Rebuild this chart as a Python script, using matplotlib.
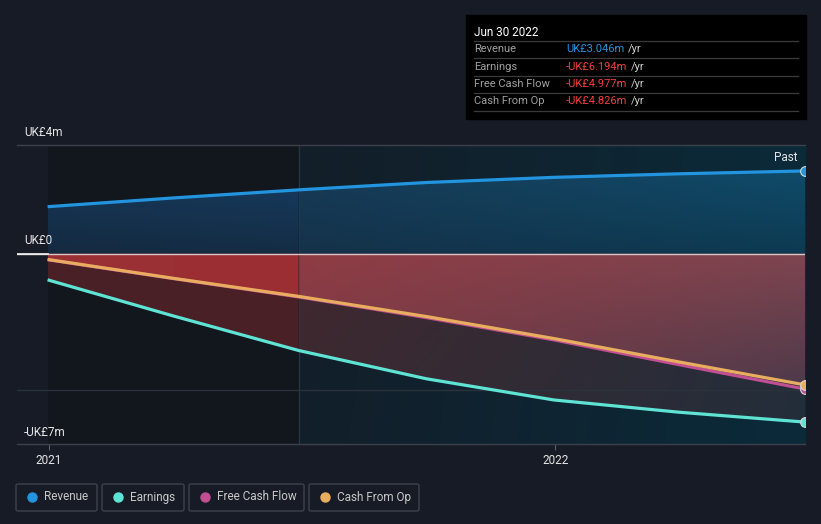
import numpy as np
import pandas as pd
import matplotlib
matplotlib.use('Agg')
import matplotlib.pyplot as plt
import matplotlib.dates as mdates
from matplotlib.patches import PathPatch, Rectangle, FancyBboxPatch
from matplotlib.lines import Line2D
from matplotlib.colors import to_rgba

plt.rcParams['font.family'] = ['Roboto', 'DejaVu Sans']

#-------------
# Data (UK£ m)
#-------------
dates = ['2020-12-31', '2021-03-31', '2021-06-30', '2021-09-30',
         '2021-12-31', '2022-03-31', '2022-06-30']
revenue = [1.73, 2.05, 2.35, 2.62, 2.81, 2.94, 3.046]
earnings = [-0.96, -2.28, -3.56, -4.60, -5.38, -5.83, -6.194]
free_cash_flow = [-0.22, -0.91, -1.59, -2.35, -3.17, -4.08, -4.977]
cash_from_op = [-0.21, -0.90, -1.57, -2.31, -3.12, -3.98, -4.826]

series_names = ['Revenue', 'Earnings', 'Free Cash Flow', 'Cash From Op']
series_colors = ['#2394df', '#5fe3d4', '#c04f93', '#e9ad5f']

tooltip_title = 'Jun 30 2022'
tooltip_values = ['UK£3.046m', '-UK£6.194m', '-UK£4.977m', '-UK£4.826m']

y_labels = ['UK£4m', 'UK£0', '-UK£7m']
x_ticks = ['2021-01-01', '2022-01-01']
x_ticklabels = ['2021', '2022']
split_date = '2021-06-30'

#------------------------------------------------------------------------------

W, H = 821, 524
bg = '#161b25'

def fx(px):
    return px / W

def fy(py):
    return 1 - py / H

x = mdates.date2num(pd.to_datetime(dates))
rev = np.array(revenue)
ear = np.array(earnings)
fcf = np.array(free_cash_flow)
cfo = np.array(cash_from_op)
xs = mdates.date2num(pd.Timestamp(split_date))
x2021 = mdates.date2num(pd.Timestamp('2021-01-01'))
xmin = x2021 - 32 / 507 * 365
xmax = x[-1]

fig = plt.figure(figsize=(W / 100, H / 100), dpi=100, facecolor=bg)
ax = fig.add_axes([fx(17), fy(444), (805 - 17) / W, (444 - 145) / H])
ax.set_facecolor(bg)
for s in ax.spines.values():
    s.set_visible(False)


def gradient_img(tl, tr, bl, br, n=60):
    c = [np.array(to_rgba(k)) for k in (tl, tr, bl, br)]
    u = np.linspace(0, 1, n)[None, :, None]
    v = np.linspace(0, 1, n)[:, None, None]
    top = c[0] * (1 - u) + c[1] * u
    bot = c[2] * (1 - u) + c[3] * u
    return top * (1 - v) + bot * v


def grad_fill(xa, y1, y2, x0, x1, tl, tr, bl, br, z=1):
    m = (xa >= x0) & (xa <= x1)
    y1m = y1[m] if np.ndim(y1) else np.full(m.sum(), y1)
    y2m = y2[m]
    poly = ax.fill_between(xa[m], y1m, y2m, color='none', lw=0)
    lo = min(y1m.min(), y2m.min())
    hi = max(y1m.max(), y2m.max())
    im = ax.imshow(gradient_img(tl, tr, bl, br), extent=[x0, x1, lo, hi],
                   origin='upper', aspect='auto', zorder=z,
                   interpolation='bilinear')
    patch = PathPatch(poly.get_paths()[0], transform=ax.transData,
                      fc='none', ec='none')
    im.set_clip_path(patch)


# background regions
ax.axvspan(x[0], xs, color='#12161d', lw=0, zorder=0.3)
ax.imshow(gradient_img('#131e28', '#0b2a39', '#121f2a', '#0b2a3a'),
          extent=[xs, xmax, -7, 4], origin='upper', aspect='auto',
          zorder=0.4, interpolation='bilinear')
ax.axvline(xs, color='#1f3441', lw=1, zorder=0.45)

# left (older) part fills
grad_fill(x, 0, rev, x[0], xs, '#163553', '#16385a', '#142a40', '#142d44')
grad_fill(x, 0, cfo, x[0], xs, '#9a3035', '#9b2e33', '#9a3035', '#9b2e33')
grad_fill(x, cfo, ear, x[0], xs, '#4a2027', '#4a2027', '#4a2027', '#4a2027')

# right (recent) part fills
grad_fill(x, 0, rev, xs, xmax, '#173b57', '#0f4b69', '#15324a', '#0d3a52')
grad_fill(x, 0, cfo, xs, xmax, '#8f3c44', '#7e4550', '#7a3a44', '#4f3a4a')
grad_fill(x, cfo, ear, xs, xmax, '#40282f', '#252e3b', '#3a2a32', '#232e3a')

# thin divider drawn faintly over fills too
ax.axvline(xs, color='#2a3f4c', lw=0.8, alpha=0.35, zorder=1.5)

# grid / reference lines
ax.axhline(-5, color='#2a323c', lw=1, zorder=2)
ax.axhline(4, color='#3c414b', lw=1, zorder=2, clip_on=False)
ax.axhline(-7, color='#3c414b', lw=1, zorder=2, clip_on=False)
ax.axhline(0, color='#d9c4c6', lw=1, zorder=2.5)
ax.plot([xmin, x[0]], [0, 0], color='#f2f2f2', lw=1.2, zorder=2.6)

# lines
for vals, col in zip([rev, ear, fcf, cfo], series_colors):
    ax.plot(x, vals, color=col, lw=2.3, zorder=3, solid_capstyle='butt',
            solid_joinstyle='round')
    ax.plot(x[-1], vals[-1], 'o', ms=7, color=col, mec='#d8d8d8', mew=0.8,
            zorder=4)

ax.set_xlim(xmin, xmax)
ax.set_ylim(-7, 4)
ax.set_yticks([])
ax.set_xticks(mdates.date2num(pd.to_datetime(x_ticks)))
ax.set_xticklabels(x_ticklabels)
ax.tick_params(axis='x', colors='#5a5f68', labelcolor='#e6e6e6',
               labelsize=8.5, length=4, pad=3)

ax.text(0.99, (4 - 0.45 + 7) / 11, 'Past', transform=ax.transAxes,
        ha='right', va='center', color='#e6e6e6', fontsize=8.5)

for lab, py in zip(y_labels, [132, 241, 432]):
    fig.text(fx(24), fy(py), lab, color='#e6e6e6', fontsize=8.5,
             va='center', ha='left')

# tooltip box
fig.patches.append(Rectangle((fx(466), fy(119)), (806 - 466) / W,
                             (119 - 15) / H, transform=fig.transFigure,
                             color='#000000', zorder=5))
fig.text(fx(474), fy(32), tooltip_title, color='#ffffff', fontsize=8.5,
         va='center', zorder=6)
for py in [41, 58, 76, 93, 111]:
    fig.add_artist(Line2D([fx(474), fx(798)], [fy(py), fy(py)],
                          color='#3a3a3a', lw=0.9, zorder=6))
renderer = fig.canvas.get_renderer()
for i, (name, val) in enumerate(zip(series_names, tooltip_values)):
    py = 49.5 + i * 17.3
    fig.text(fx(474), fy(py), name, color='#a0a0a0', fontsize=8,
             va='center', zorder=6)
    vcol = '#2394df' if i == 0 else '#f23f3f'
    t = fig.text(fx(566), fy(py), val, color=vcol, fontsize=8,
                 va='center', zorder=6)
    x_end = t.get_window_extent(renderer).x1
    fig.text((x_end + 4) / W, fy(py), '/yr', color='#d0d0d0', fontsize=8,
             va='center', zorder=6)

# legend
boxes = [(16, 97), (102, 184), (189, 304), (309, 419)]
for (bx0, bx1), name, col in zip(boxes, series_names, series_colors):
    fig.patches.append(FancyBboxPatch((fx(bx0), fy(511)), (bx1 - bx0) / W,
                                      (511 - 484) / H,
                                      boxstyle='round,pad=0,rounding_size=0.003',
                                      transform=fig.transFigure, fc='none',
                                      ec='#3d424c', lw=1))
    fig.add_artist(Line2D([fx(bx0 + 16)], [fy(497)], marker='o', ms=6.5,
                          color=col, lw=0))
    fig.text(fx(bx0 + 28), fy(497), name, color='#c8c8c8', fontsize=8.5,
             va='center')

plt.savefig('out.png', dpi=100, facecolor=bg)
plt.close()
